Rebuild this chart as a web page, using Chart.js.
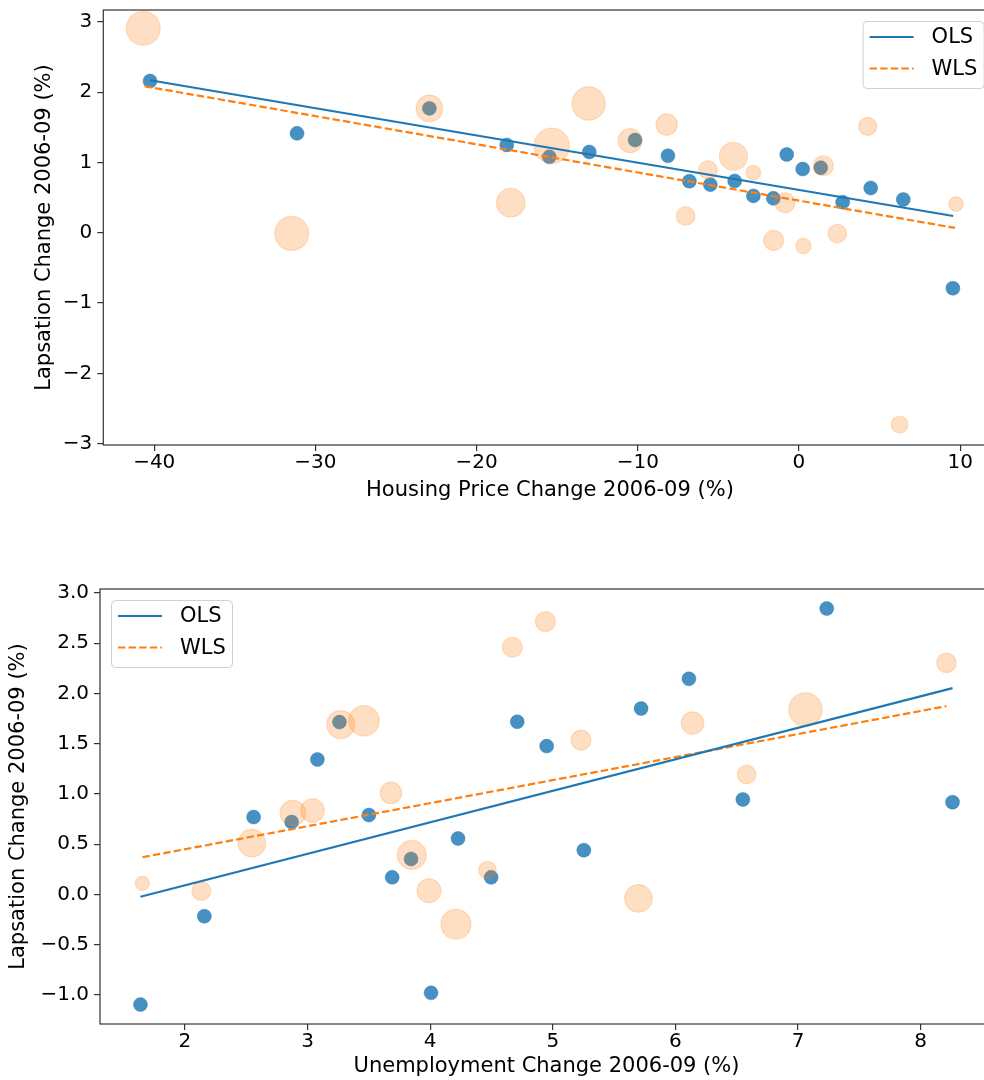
<!DOCTYPE html>
<html>
<head>
<meta charset="utf-8">
<script src="https://cdn.jsdelivr.net/npm/chart.js@4.4.1/dist/chart.umd.min.js"></script>
<style>
  html, body { margin: 0; padding: 0; background: #fff; overflow: hidden; width: 984px; height: 1080px; }
  canvas { position: absolute; left: 0; top: 0; }
</style>
</head>
<body>
<canvas id="housing" width="1000" height="1080"></canvas>
<canvas id="unemp" width="1000" height="1080"></canvas>
<script>
// ---- top panel: housing price change vs lapsation change ----
const housingOls = [-40.26, -31.14, -22.93, -18.13, -15.49, -13.01, -10.17, -8.13, -6.80, -5.50,
                    -3.99, -2.83, -1.59, -0.76, 0.23, 1.35, 2.71, 4.45, 6.47, 9.55];
const lapseOlsTop = [2.16, 1.415, 1.77, 1.25, 1.08, 1.15, 1.32, 1.095, 0.733, 0.685,
                     0.737, 0.525, 0.49, 1.114, 0.907, 0.925, 0.436, 0.638, 0.473, -0.79];
const housingWls = [-40.68, -31.47, -22.93, -17.88, -15.34, -13.05, -10.48, -8.21, -7.03, -5.65,
                    -4.07, -2.83, -1.57, -0.87, 0.27, 1.51, 2.38, 4.26, 6.24, 9.74];
const lapseWlsTop = [2.91, -0.01, 1.77, 0.427, 1.236, 1.84, 1.31, 1.54, 0.239, 0.893,
                     1.086, 0.855, -0.11, 0.427, -0.19, 0.953, -0.011, 1.514, -2.73, 0.408];
const weightsTop = [18.1, 18.1, 11.1, 12.8, 19.6, 17.4, 9, 7.2, 5.4, 5.4,
                    12.3, 3.3, 6.3, 6.3, 3.7, 6.3, 5.4, 5.1, 4.5, 3.3];
const olsLineTopX = [-40.26, 9.57], olsLineTopY = [2.17, 0.239];
const wlsLineTopX = [-40.6, 9.68], wlsLineTopY = [2.085, 0.069];
const housingTicks = [-40, -30, -20, -10, 0, 10];
const lapseTicksTop = [-3, -2, -1, 0, 1, 2, 3];

// ---- bottom panel: unemployment change vs lapsation change ----
const unempOls = [1.637, 2.158, 2.56, 2.87, 3.08, 3.26, 3.50, 3.69, 3.844, 4.007,
                  4.227, 4.497, 4.71, 4.95, 5.253, 5.72, 6.11, 6.55, 7.234, 8.26];
const lapseOlsBot = [-1.097, -0.217, 0.77, 0.72, 1.343, 1.715, 0.79, 0.17, 0.353, -0.98,
                     0.557, 0.17, 1.718, 1.476, 0.44, 1.85, 2.146, 0.945, 2.846, 0.918];
const unempWls = [1.653, 2.133, 2.546, 2.88, 3.04, 3.27, 3.46, 3.68, 3.85, 3.99,
                  4.21, 4.467, 4.67, 4.94, 5.23, 5.698, 6.14, 6.58, 7.06, 8.21];
const lapseWlsBot = [0.11, 0.033, 0.51, 0.81, 0.836, 1.69, 1.728, 1.01, 0.393, 0.037,
                     -0.297, 0.243, 2.46, 2.716, 1.536, -0.04, 1.705, 1.194, 1.84, 2.305];
const weightsBot = [3.1, 5.6, 11.9, 10.1, 8.6, 12.3, 14.6, 7.2, 13.1, 9,
                    14.1, 4.8, 6.3, 6.3, 6.3, 11.9, 8, 5.4, 17.4, 5.9];
const olsLineBotX = [1.637, 8.26], olsLineBotY = [-0.023, 2.053];
const wlsLineBotX = [1.653, 8.21], wlsLineBotY = [0.37, 1.874];
const unempTicks = [2, 3, 4, 5, 6, 7, 8];
const lapseTicksBot = [-1, -0.5, 0, 0.5, 1, 1.5, 2, 2.5, 3];

const FONT = "'DejaVu Sans', sans-serif";
const BLUE = '#1f77b4', ORANGE = '#ff7f0e';

function pts(xs, ys) { return xs.map((x, i) => ({ x: x, y: ys[i] })); }
const fmtInt = v => (v < 0 ? '\u2212' : '') + Math.abs(v);
const fmtOne = v => (v < 0 ? '\u2212' : '') + Math.abs(v).toFixed(1);

// axes frame (matplotlib style box)
const framePlugin = {
  id: 'frame',
  afterDatasetsDraw(chart) {
    const a = chart.chartArea, ctx = chart.ctx;
    ctx.save();
    ctx.strokeStyle = '#333';
    ctx.lineWidth = 1.2;
    ctx.strokeRect(a.left, a.top, a.right - a.left, a.bottom - a.top);
    ctx.restore();
  }
};

// legend box inside the axes
const boxLegend = {
  id: 'boxLegend',
  afterDraw(chart, args, opts) {
    const a = chart.chartArea, ctx = chart.ctx;
    const w = 121, h = 67;
    const x = opts.side === 'right' ? a.right - 13 - w : a.left + 11;
    const y = a.top + 11;
    ctx.save();
    ctx.beginPath();
    ctx.roundRect(x + 0.5, y + 0.5, w, h, 4);
    ctx.fillStyle = 'rgba(255,255,255,0.8)';
    ctx.fill();
    ctx.strokeStyle = '#d0d0d0';
    ctx.lineWidth = 1;
    ctx.stroke();
    const lines = chart.data.datasets.filter(d => d.showLine);
    lines.forEach((d, i) => {
      const ly = y + 16 + i * 31.5;
      ctx.beginPath();
      ctx.setLineDash(d.borderDash || []);
      ctx.strokeStyle = d.borderColor;
      ctx.lineWidth = d.borderWidth;
      ctx.moveTo(x + 7, ly);
      ctx.lineTo(x + 51, ly);
      ctx.stroke();
      ctx.setLineDash([]);
      ctx.fillStyle = '#000';
      ctx.font = '21px ' + FONT;
      ctx.textBaseline = 'middle';
      ctx.fillText(d.label, x + 69, ly + 1);
    });
    ctx.restore();
  }
};

function axis(o) {
  return {
    type: 'linear',
    min: o.min, max: o.max,
    afterBuildTicks: s => { s.ticks = o.ticks.map(v => ({ value: v })); },
    afterFit: s => {
      if (o.width) s.width = o.width;
      if (o.height) s.height = o.height;
      s.paddingTop = 0; s.paddingBottom = 0; s.paddingLeft = 0; s.paddingRight = 0;
    },
    grid: { display: true, drawOnChartArea: false, drawTicks: true, tickLength: 6, color: '#333', lineWidth: 1.2 },
    border: { display: false },
    ticks: { font: { family: FONT, size: 20 }, color: '#000', padding: o.pad, autoSkip: false, maxRotation: 0, callback: o.fmt },
    title: { display: true, text: o.title, font: { family: FONT, size: 21 }, color: '#000', padding: o.titlePad }
  };
}

function datasets(xo, yo, xw, yw, w, lox, loy, lwx, lwy) {
  return [
    { label: 'OLS', data: pts(lox, loy), showLine: true, borderColor: BLUE, borderWidth: 2.2,
      pointRadius: 0, order: 0 },
    { label: 'WLS', data: pts(lwx, lwy), showLine: true, borderColor: ORANGE, borderWidth: 2.2,
      borderDash: [7.4, 3.2], pointRadius: 0, order: 0 },
    { label: 'weighted', data: pts(xw, yw), showLine: false,
      pointRadius: ctx => 4 * Math.sqrt(w[ctx.dataIndex]),
      backgroundColor: 'rgba(255,127,14,0.25)', borderColor: 'rgba(255,127,14,0.22)', borderWidth: 1.2, order: 1 },
    { label: 'points', data: pts(xo, yo), showLine: false, pointRadius: 7,
      backgroundColor: 'rgba(31,119,180,0.82)', borderColor: 'rgba(31,119,180,0.82)', borderWidth: 0.5, order: 2 }
  ];
}

new Chart(document.getElementById('housing'), {
  type: 'scatter',
  data: { datasets: datasets(housingOls, lapseOlsTop, housingWls, lapseWlsTop, weightsTop,
                             olsLineTopX, olsLineTopY, wlsLineTopX, wlsLineTopY) },
  options: {
    responsive: false, animation: false, devicePixelRatio: 1, events: [],
    layout: { autoPadding: false, padding: { left: 0, top: 10, right: 3.4, bottom: 575 } },
    plugins: { legend: { display: false }, tooltip: { enabled: false }, boxLegend: { side: 'right' } },
    scales: {
      x: axis({ min: -43.16, max: 12.26, ticks: housingTicks, fmt: fmtInt, pad: 0, height: 60,
                title: 'Housing Price Change 2006-09 (%)', titlePad: { top: 0, bottom: 1.4 } }),
      y: axis({ min: -3.02, max: 3.17, ticks: lapseTicksTop, fmt: fmtInt, pad: 5, width: 103.3,
                title: 'Lapsation Change 2006-09 (%)', titlePad: { top: 32.4, bottom: 0 } })
    }
  },
  plugins: [framePlugin, boxLegend]
});

new Chart(document.getElementById('unemp'), {
  type: 'scatter',
  data: { datasets: datasets(unempOls, lapseOlsBot, unempWls, lapseWlsBot, weightsBot,
                             olsLineBotX, olsLineBotY, wlsLineBotX, wlsLineBotY) },
  options: {
    responsive: false, animation: false, devicePixelRatio: 1, events: [],
    layout: { autoPadding: false, padding: { left: 0, top: 589, right: 7, bottom: 0 } },
    plugins: { legend: { display: false }, tooltip: { enabled: false }, boxLegend: { side: 'left' } },
    scales: {
      x: axis({ min: 1.307, max: 8.59, ticks: unempTicks, fmt: fmtInt, pad: 0, height: 56,
                title: 'Unemployment Change 2006-09 (%)', titlePad: { top: 0, bottom: 0.7 } }),
      y: axis({ min: -1.29, max: 3.04, ticks: lapseTicksBot, fmt: fmtOne, pad: 5, width: 100,
                title: 'Lapsation Change 2006-09 (%)', titlePad: { top: 6, bottom: 0 } })
    }
  },
  plugins: [framePlugin, boxLegend]
});
</script>
</body>
</html>
